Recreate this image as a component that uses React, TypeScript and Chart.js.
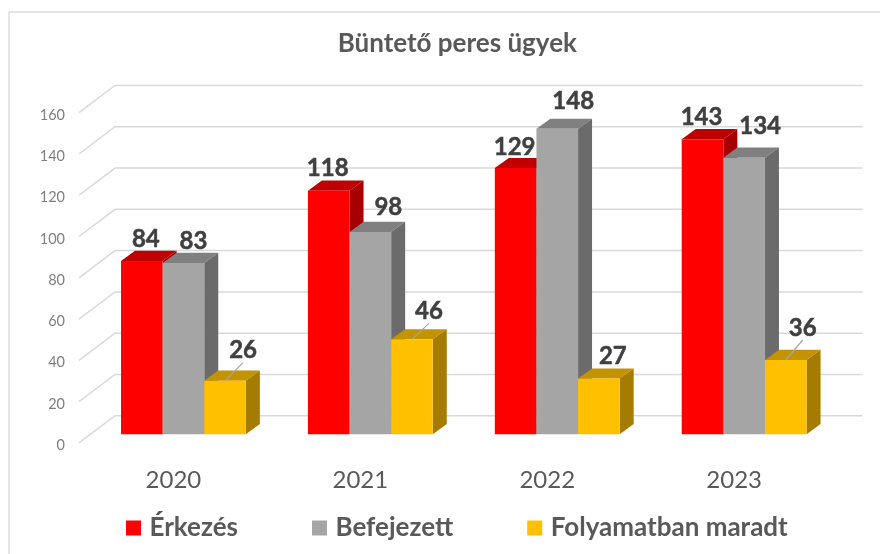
import React, { useEffect, useRef } from "react";
import { Chart, registerables } from "chart.js";

Chart.register(...registerables);

const categories = ["2020", "2021", "2022", "2023"];
const erkezes = [84, 118, 129, 143];
const befejezett = [83, 98, 148, 134];
const folyamatban = [26, 46, 27, 36];
const seriesNames = ["Érkezés", "Befejezett", "Folyamatban maradt"];
const yTickMax = 160;
const yTickStep = 20;

// Styling of the faux 3D look
const FRONT = ["#FF0000", "#A5A5A5", "#FFC000"];
const TOP = ["#C00000", "#808080", "#C49300"];
const SIDE = ["#A60000", "#6B6B6B", "#A67C00"];
const DEPTH_X = 14;
const DEPTH_Y = 10.2;
const TEXT_DARK = "#404040";
const GRID = "#D9D9D9";
const FONT = "Lato";

// nudges of the value labels relative to the bar top [dx, dy], per series / category
const LABEL_NUDGE: number[][][] = [
  [[4, -22], [-1, -23], [-1, -21], [-1, -22]],
  [[10, -22], [18, -25], [16, -28], [16, -31]],
  [[18, -30], [17, -28], [14, -22], [17, -32]],
];
const LEADER: boolean[][] = [
  [false, false, false, false],
  [false, false, false, false],
  [true, true, false, true],
];

const depthPlugin = {
  id: "depth",
  beforeLayout(chart: any) {
    const lg = chart.legend;
    if (lg && !lg.__fixed) {
      lg.__fixed = true;
      const fit = lg.fit;
      lg.fit = function () {
        fit.call(this);
        this.height = 40;
      };
    }
  },
  afterLayout(chart: any) {
    const lg = chart.legend;
    lg.left = 52;
    lg.right = chart.width;
    lg.top = 436.5;
    lg.bottom = chart.height;
    chart.titleBlock.left = 77;
  },
  beforeDraw(chart: any) {
    const { ctx, width, height } = chart;
    ctx.save();
    ctx.fillStyle = "#FFFFFF";
    ctx.fillRect(0, 0, width, height);
    ctx.strokeStyle = "#DDDDDD";
    ctx.lineWidth = 1.5;
    ctx.beginPath();
    ctx.moveTo(9, height);
    ctx.lineTo(9, 12);
    ctx.lineTo(width - 9, 12);
    ctx.stroke();
    ctx.restore();
  },
  beforeDatasetsDraw(chart: any) {
    const { ctx, chartArea, scales } = chart;
    ctx.save();
    ctx.strokeStyle = GRID;
    ctx.lineWidth = 1.5;
    scales.y.ticks.forEach((t: any) => {
      const y = scales.y.getPixelForValue(t.value);
      ctx.beginPath();
      ctx.moveTo(chartArea.left - 11, y + 8.6);
      ctx.lineTo(chartArea.left + 25, y - 18.6);
      ctx.lineTo(chartArea.right + 25, y - 18.6);
      ctx.stroke();
    });
    // series are painted first to last so each one covers the previous one's side face
    chart.data.datasets.forEach((_: any, i: number) => {
      const meta = chart.getDatasetMeta(i);
      meta.data.forEach((bar: any) => {
        const half = bar.width / 2;
        const l = bar.x - half;
        const r = bar.x + half;
        ctx.fillStyle = TOP[i];
        ctx.beginPath();
        ctx.moveTo(l, bar.y);
        ctx.lineTo(l + DEPTH_X, bar.y - DEPTH_Y);
        ctx.lineTo(r + DEPTH_X, bar.y - DEPTH_Y);
        ctx.lineTo(r, bar.y);
        ctx.closePath();
        ctx.fill();
        ctx.fillStyle = SIDE[i];
        ctx.beginPath();
        ctx.moveTo(r, bar.y);
        ctx.lineTo(r + DEPTH_X, bar.y - DEPTH_Y);
        ctx.lineTo(r + DEPTH_X, bar.base - DEPTH_Y);
        ctx.lineTo(r, bar.base);
        ctx.closePath();
        ctx.fill();
        bar.draw(ctx);
      });
    });
    ctx.restore();
  },
  beforeDatasetDraw() {
    return false;
  },
  afterDatasetsDraw(chart: any) {
    const { ctx } = chart;
    ctx.save();
    chart.data.datasets.forEach((ds: any, i: number) => {
      chart.getDatasetMeta(i).data.forEach((bar: any, j: number) => {
        const [dx, dy] = LABEL_NUDGE[i][j];
        const tx = bar.x + dx;
        const ty = bar.y + dy;
        if (LEADER[i][j]) {
          ctx.strokeStyle = "#A6A6A6";
          ctx.lineWidth = 1.2;
          ctx.beginPath();
          ctx.moveTo(bar.x, bar.y);
          ctx.lineTo(tx, ty + 12);
          ctx.stroke();
        }
        ctx.fillStyle = TEXT_DARK;
        ctx.strokeStyle = TEXT_DARK;
        ctx.lineWidth = 0.5;
        ctx.font = `bold 24px ${FONT}`;
        ctx.textAlign = "center";
        ctx.textBaseline = "middle";
        ctx.fillText(String(ds.data[j]), tx, ty);
        ctx.strokeText(String(ds.data[j]), tx, ty);
      });
    });
    ctx.restore();
  },
};

export default function App() {
  const ref = useRef<HTMLCanvasElement | null>(null);
  useEffect(() => {
    const all = [erkezes, befejezett, folyamatban];
    const chart = new Chart(ref.current as HTMLCanvasElement, {
      type: "bar",
      data: {
        labels: categories,
        datasets: all.map((d, i) => ({
          label: seriesNames[i],
          data: d,
          backgroundColor: FRONT[i],
          borderWidth: 0,
          barPercentage: 1,
          categoryPercentage: 0.668,
        })),
      },
      options: {
        animation: false,
        responsive: false,
        layout: { padding: { left: 0, right: 51.4, top: 0, bottom: 0 } },
        scales: {
          x: {
            border: { display: false },
            grid: { display: false },
            ticks: { color: "#595959", font: { family: FONT, size: 24 }, padding: 23.5, labelOffset: -10 },
            afterFit(s: any) { s.height = 79.7; },
          },
          y: {
            min: 0,
            max: yTickMax,
            border: { display: false },
            grid: { display: false, drawTicks: false },
            ticks: { stepSize: yTickStep, color: "#7F7F7F", font: { family: FONT, size: 14.5 }, padding: 25, labelOffset: 11 },
            afterFit(s: any) { s.width = 90; },
          },
        },
        plugins: {
          title: {
            display: true,
            text: "Büntető peres ügyek",
            color: "#595959",
            font: { family: FONT, size: 26, weight: "bold" },
            padding: { top: 28.4, bottom: 44.5 },
          },
          legend: {
            position: "bottom",
            align: "start",
            labels: {
              color: "#595959",
              usePointStyle: true,
              pointStyle: "rect",
              boxWidth: 6,
              boxHeight: 15,
              font: { family: FONT, size: 26, weight: "bold" },
              padding: 78.5,
            },
          },
          tooltip: { enabled: false },
        },
      },
      plugins: [depthPlugin],
    } as any);
    return () => chart.destroy();
  }, []);
  return (
    <div style={{ position: "absolute", left: 0, top: 0, width: 889, height: 554 }}>
      <canvas ref={ref} width={889} height={554} style={{ display: "block" }} />
    </div>
  );
}
